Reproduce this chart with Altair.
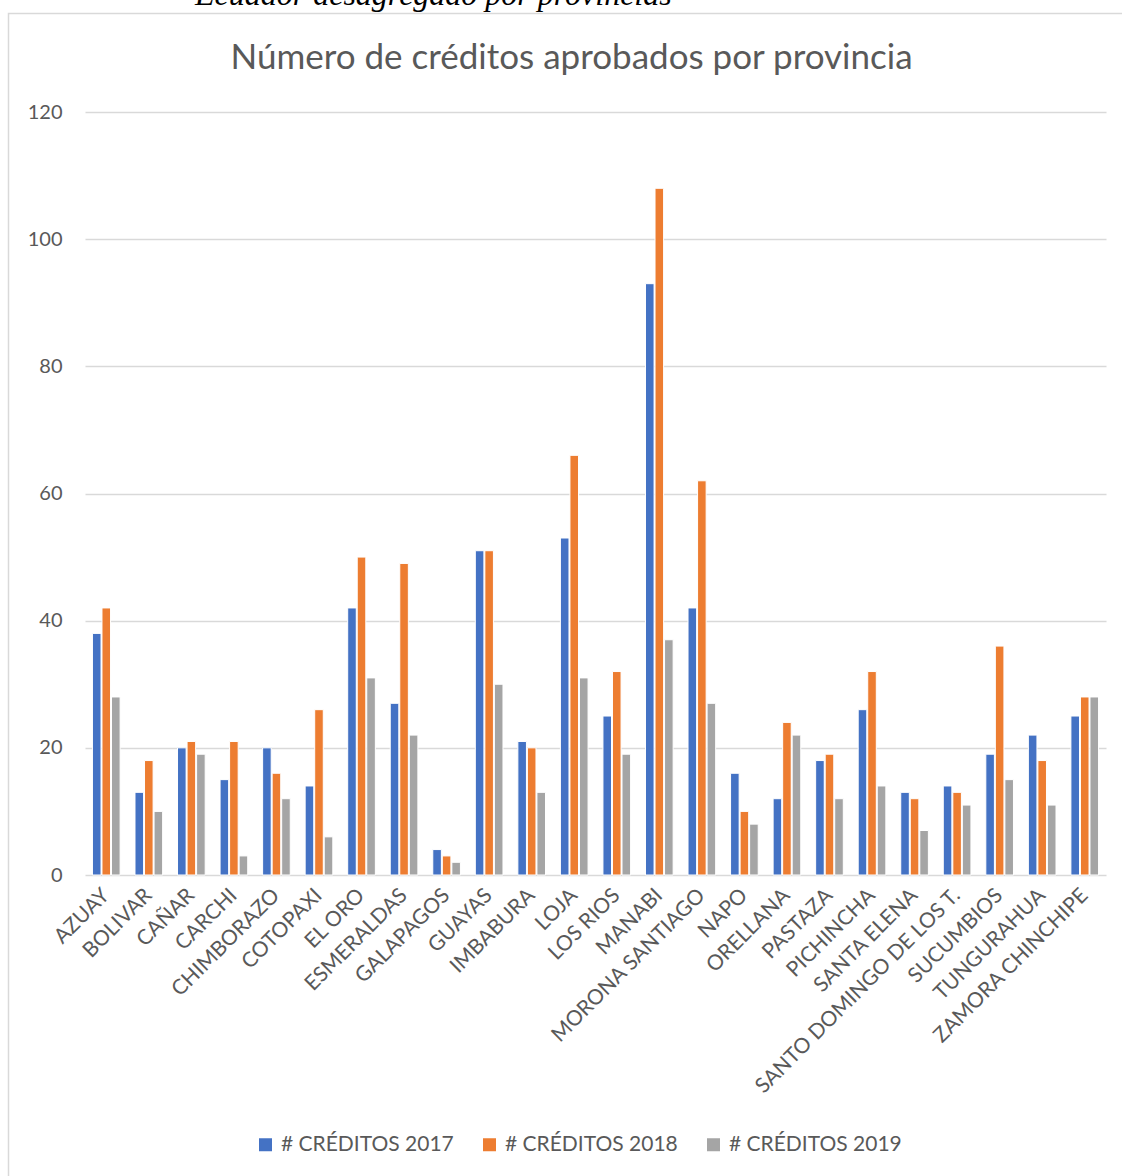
import altair as alt
import pandas as pd

provincias = ["AZUAY", "BOLIVAR", "CAÑAR", "CARCHI", "CHIMBORAZO", "COTOPAXI", "EL ORO",
              "ESMERALDAS", "GALAPAGOS", "GUAYAS", "IMBABURA", "LOJA", "LOS RIOS", "MANABI",
              "MORONA SANTIAGO", "NAPO", "ORELLANA", "PASTAZA", "PICHINCHA", "SANTA ELENA",
              "SANTO DOMINGO DE LOS T.", "SUCUMBIOS", "TUNGURAHUA", "ZAMORA CHINCHIPE"]
c2017 = [38, 13, 20, 15, 20, 14, 42, 27, 4, 51, 21, 53, 25, 93, 42, 16, 12, 18, 26, 13, 14, 19, 22, 25]
c2018 = [42, 18, 21, 21, 16, 26, 50, 49, 3, 51, 20, 66, 32, 108, 62, 10, 24, 19, 32, 12, 13, 36, 18, 28]
c2019 = [28, 10, 19, 3, 12, 6, 31, 22, 2, 30, 13, 31, 19, 37, 27, 8, 22, 12, 14, 7, 11, 15, 11, 28]
series = ["# CRÉDITOS 2017", "# CRÉDITOS 2018", "# CRÉDITOS 2019"]
colores = ["#4472C4", "#ED7D31", "#A5A5A5"]
y_ticks = [0, 20, 40, 60, 80, 100, 120]
titulo = "Número de créditos aprobados por provincia"
texto_superior = "Ecuador desagregado por provincias"

rows = []
for s, vals in zip(series, [c2017, c2018, c2019]):
    for p, v in zip(provincias, vals):
        rows.append({"provincia": p, "serie": s, "valor": v})
df = pd.DataFrame(rows)

W, H = 1021, 763
PL, PT = 85, 112
GRAY = "#595959"
FONT = "Lato"

bars = alt.Chart(df).mark_bar(stroke="white", strokeWidth=1).encode(
    x=alt.X("provincia:N", sort=provincias, title=None,
            scale=alt.Scale(paddingInner=0.35, paddingOuter=0.175),
            axis=alt.Axis(labelAngle=-45, labelAlign="right", labelBaseline="middle",
                          labelFontSize=21, labelFont=FONT, labelColor=GRAY,
                          labelPadding=17, ticks=False, domain=False, grid=False,
                          labelOverlap=False, labelLimit=400)),
    xOffset=alt.XOffset("serie:N", sort=series, scale=alt.Scale(paddingInner=0.1, paddingOuter=0)),
    y=alt.Y("valor:Q", title=None,
            scale=alt.Scale(domain=[0, 120], nice=False),
            axis=alt.Axis(values=y_ticks, labelFontSize=20, labelFont=FONT, labelColor=GRAY,
                          labelPadding=23, ticks=False, domain=False,
                          grid=True, gridColor="#d9d9d9", gridWidth=1.5)),
    color=alt.Color("serie:N", sort=series,
                    scale=alt.Scale(domain=series, range=colores),
                    legend=alt.Legend(title=None, orient="none", direction="horizontal",
                                      legendX=255 - PL, legendY=1134 - PT,
                                      symbolType="square", symbolSize=169, symbolStrokeWidth=0,
                                      labelFontSize=21, labelFont=FONT, labelColor=GRAY,
                                      labelOffset=5, columnPadding=25, padding=0,
                                      labelLimit=400)),
)

frame = alt.Chart(pd.DataFrame({"k": [0]})).mark_rect(
    fill=None, stroke="#d9d9d9", strokeWidth=1.5
).encode(
    x=alt.value(8.5 - PL), x2=alt.value(1140 - PL),
    y=alt.value(13.5 - PT), y2=alt.value(1190 - PT),
)

title_mark = alt.Chart(pd.DataFrame({"t": [titulo]})).mark_text(
    font=FONT, fontSize=35, color=GRAY, align="center", baseline="alphabetic"
).encode(text="t:N", x=alt.value(571.5 - PL), y=alt.value(69 - PT))

top_mark = alt.Chart(pd.DataFrame({"t": [texto_superior]})).mark_text(
    font="Liberation Serif", fontStyle="italic", fontSize=32, color="#000000",
    align="left", baseline="alphabetic"
).encode(text="t:N", x=alt.value(195 - PL), y=alt.value(4.5 - PT))

chart = alt.layer(frame, bars, title_mark, top_mark).properties(
    width=W, height=H,
    autosize=alt.AutoSizeParams(type="none"),
    padding={"left": PL, "top": PT, "right": 1122 - PL - W, "bottom": 1176 - PT - H},
    background="white",
).configure_view(stroke=None)

chart.save("out.html", embed_options={"renderer": "svg", "actions": False})
